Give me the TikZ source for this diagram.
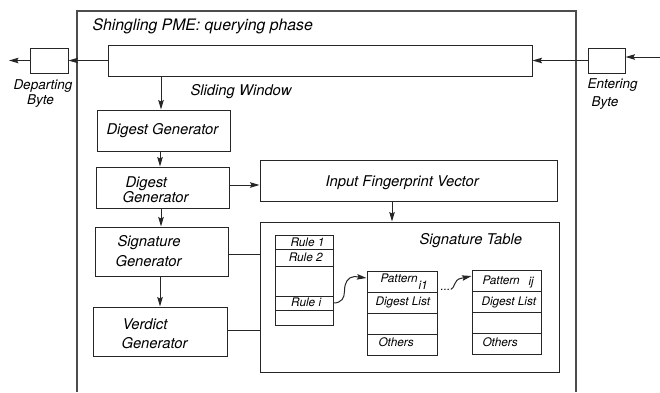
\documentclass[tikz,border=0pt]{standalone}
\usepackage{fontspec}
\setmainfont{TeX Gyre Heros}
\usetikzlibrary{arrows.meta,calc}

\begin{document}
\begin{tikzpicture}[x=1pt,y=-1pt,
  line width=1pt,
  box/.style={draw=black!85, inner sep=0pt},
  lbl/.style={inner sep=0pt, anchor=base west, font=\fontsize{14.8}{16}\selectfont\itshape},
  sml/.style={inner sep=0pt, anchor=base west, font=\fontsize{11.8}{13}\selectfont\itshape},
  side/.style={inner sep=0pt, anchor=base west, font=\fontsize{13.5}{15}\selectfont\itshape},
  arr/.style={draw=black!85, -{Stealth[length=9.5pt,width=5.5pt,inset=1.5pt]}},
  link/.style={draw=black!85},
]
\useasboundingbox (0,0) rectangle (660,392);

% outer frame, open at the bottom
\draw[draw=black!70, line width=1.1pt] (77,392) -- (77,11) -- (576,11) -- (576,392);
\node[inner sep=0pt, anchor=base west, font=\fontsize{15.8}{18}\selectfont\itshape] (title) at (92,30.6) {Shingling PME: querying phase};

% byte stream
\node[box, minimum width=424pt, minimum height=31pt] (sw) at (320,60.5) {};
\node[box, minimum width=38pt, minimum height=25pt] (dep) at (49,60.5) {};
\node[box, minimum width=37pt, minimum height=25pt] (ent) at (606.5,60.5) {};
\coordinate (inR) at (660,57);
\coordinate (outL) at (9,60.5);
\draw[arr] (inR) -- (inR -| ent.east);
\draw[arr] (ent.west) -- (sw.east);
\draw[arr] (sw.west) -- (dep.east);
\draw[arr] (dep.west) -- (outL);

\node[side] (depA) at (13,89.7) {Departing};
\node[side] (depB) at (26.7,104.7) {Byte};
\node[side] (entA) at (587,88) {Entering};
\node[side] (entB) at (591,106.4) {Byte};
\node[lbl] (swl) at (190,95.6) {Sliding Window};

% processing chain
\node[box, minimum width=133pt, minimum height=41pt] (dg1) at (163.5,130.5) {};
\node[box, minimum width=133pt, minimum height=41pt] (dg2) at (162.5,187.5) {};
\node[box, minimum width=297pt, minimum height=41pt] (ifv) at (408.5,180.5) {};
\node[box, minimum width=133pt, minimum height=49pt] (sg) at (161.5,251.5) {};
\node[box, minimum width=134pt, minimum height=49pt] (vg) at (160,331.5) {};
\node[box, minimum width=299pt, minimum height=150pt] (st) at (409.5,297) {};

\node[lbl] (dg1t) at (106,134.6) {Digest Generator};
\node[lbl] (dg2a) at (125,187.3) {Digest};
\node[lbl] (dg2b) at (122,202.3) {Generator};
\node[lbl] (ifvt) at (325,186.3) {Input Fingerprint Vector};
\node[lbl] (sga) at (117,246.6) {Signature};
\node[lbl] (sgb) at (115,266.6) {Generator};
\node[lbl] (vga) at (122,329) {Verdict};
\node[lbl] (vgb) at (121,348.3) {Generator};
\node[lbl] (stt) at (419,244) {Signature Table};

\draw[arr] ([xshift=-2.5pt]dg1.north |- sw.south) -- ([xshift=-2.5pt]dg1.north);
\draw[arr] ([xshift=-3.5pt]dg1.south) -- ([xshift=-3.5pt]dg1.south |- dg2.north);
\draw[arr] ([yshift=2.5pt]dg2.east) -- ([yshift=2.5pt]dg2.east -| ifv.west);
\draw[arr] ([xshift=-16.5pt]ifv.south) -- ([xshift=-16.5pt]ifv.south |- st.north);
\draw[arr] ([xshift=-1.5pt]dg2.south) -- ([xshift=-1.5pt]dg2.south |- sg.north);
\draw[arr] ([xshift=-1.5pt]sg.south) -- ([xshift=-1.5pt]sg.south |- vg.north);
\draw[link] ([yshift=-2.5pt]sg.east) -- ([yshift=-2.5pt]sg.east -| st.west);
\draw[link] ([yshift=1.5pt]vg.east) -- ([yshift=1.5pt]vg.east -| st.west);

% rule table
\node[box, minimum width=58pt, minimum height=14pt] (r1) at (304,242) {};
\node[box, minimum width=58pt, minimum height=17pt] (r2) at (304,257.5) {};
\node[box, minimum width=58pt, minimum height=30pt] (rg) at (304,281) {};
\node[box, minimum width=58pt, minimum height=14pt] (ri) at (304,303) {};
\node[box, minimum width=58pt, minimum height=15pt] (rl) at (304,317.5) {};
\node[sml] (r1t) at (290,246.7) {Rule 1};
\node[sml] (r2t) at (288.3,261) {Rule 2};
\node[sml] (rit) at (290.7,306.7) {Rule i};

% pattern records
\node[box, minimum width=70pt, minimum height=21pt] (p1a) at (402,281.5) {};
\node[box, minimum width=70pt, minimum height=21pt] (p1b) at (402,302.5) {};
\node[box, minimum width=70pt, minimum height=21pt] (p1c) at (402,323.5) {};
\node[box, minimum width=70pt, minimum height=21pt] (p1d) at (402,344.5) {};
\node[box, minimum width=69pt, minimum height=21pt] (p2a) at (506.5,280.5) {};
\node[box, minimum width=69pt, minimum height=21pt] (p2b) at (506.5,301.5) {};
\node[box, minimum width=69pt, minimum height=21pt] (p2c) at (506.5,322.5) {};
\node[box, minimum width=69pt, minimum height=21pt] (p2d) at (506.5,343.5) {};

\node[sml] (p1t) at (380,282) {Pattern};
\node[sml] (p1s) at (418,289) {i1};
\node[sml] (p1l) at (375,305.5) {Digest List};
\node[sml] (p1o) at (378,346.5) {Others};
\node[sml] (p2t) at (482,284) {Pattern};
\node[sml] (p2s) at (528,285.5) {ij};
\node[sml] (p2l) at (481,305) {Digest List};
\node[sml] (p2o) at (482,346) {Others};
\node[sml] (dots) at (440,290) {...};

% pointers
\draw[arr] (ri.east) .. controls ($(ri.east)+(8,0)$) and ($(ri.east)+(11,-5)$) .. ($(ri.east)+(11,-12)$)
  .. controls ($(ri.east)+(11,-20)$) and ($(ri.east)+(14,-26)$) .. ($(ri.east)+(21,-26.5)$)
  -- ([yshift=3.5pt]p1a.west);
\draw[arr] (dots.east) .. controls ($(dots.east)+(4,-1)$) and ($(dots.east)+(3,-10)$) .. ($(dots.east)+(10,-11)$)
  -- ([yshift=4.5pt]p2a.west);

\end{tikzpicture}
\end{document}
